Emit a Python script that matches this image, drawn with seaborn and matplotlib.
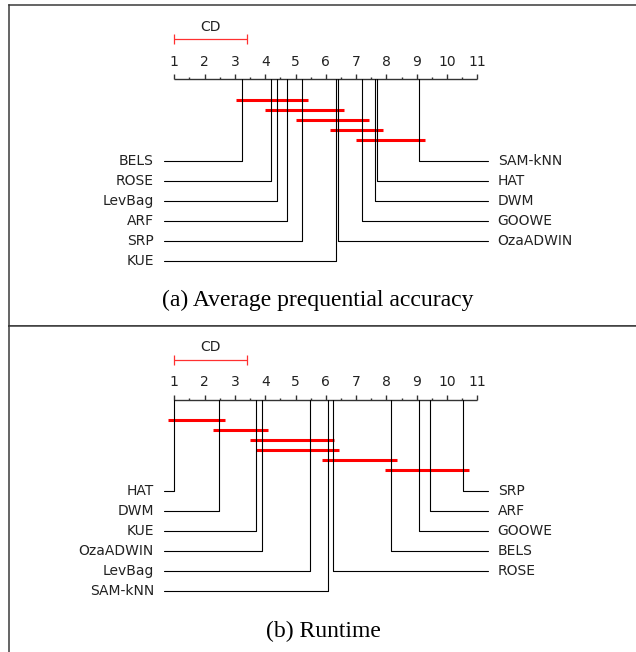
import numpy as np
import matplotlib
matplotlib.use("Agg")
import matplotlib.pyplot as plt
import matplotlib.transforms as mtransforms
import seaborn as sns

# Average ranks
acc_methods = ["BELS", "ROSE", "LevBag", "ARF", "SRP", "KUE",
               "OzaADWIN", "GOOWE", "DWM", "HAT", "SAM-kNN"]
acc_ranks = [3.22, 4.19, 4.38, 4.71, 5.20, 6.33, 6.40, 7.21, 7.63, 7.69, 9.08]
acc_cliques = [("BELS", "SRP"), ("ROSE", "OzaADWIN"), ("SRP", "GOOWE"),
               ("KUE", "HAT"), ("GOOWE", "SAM-kNN")]

rt_methods = ["HAT", "DWM", "KUE", "OzaADWIN", "LevBag", "SAM-kNN",
              "ROSE", "BELS", "GOOWE", "ARF", "SRP"]
rt_ranks = [1.00, 2.47, 3.71, 3.90, 5.47, 6.07, 6.23, 8.14, 9.07, 9.45, 10.52]
rt_cliques = [("HAT", "DWM"), ("DWM", "OzaADWIN"), ("KUE", "SAM-kNN"),
              ("OzaADWIN", "ROSE"), ("SAM-kNN", "BELS"), ("BELS", "SRP")]

cd_value = 2.41
rank_ticks = np.arange(1, 12)
captions = ["(a) Average prequential accuracy", "(b) Runtime"]

sns.set_theme(style="white")
plt.rcParams['font.family'] = ['DejaVu Sans']

# layout in pixels (y measured from the top of each panel)
W, H = 636, 652
PX = 30.3            # pixels per rank unit
X1 = 174.3           # pixel position of rank 1
LEFT_EDGE = 8.7
CD_LABEL_Y, CD_Y, TICK_LABEL_Y, AXIS_Y, CLIQUE_Y0 = 21.4, 34, 56.4, 74, 94.4
TEXT_C = "#222222"


def px_to_rank(px):
    return 1 + (px - X1) / PX


def draw_cd(ax, methods, ranks, cliques, caption, height, cap_x):
    ax.set_xlim(px_to_rank(LEFT_EDGE), px_to_rank(W))
    ax.set_ylim(height, 0)
    ax.set_xticks([])
    ax.set_yticks([])
    rank_of = dict(zip(methods, ranks))
    lo, hi = rank_ticks[0], rank_ticks[-1]

    # rank axis with ticks
    ax.hlines(AXIS_Y, lo, hi, color="#333333", lw=1.0)
    for t in np.arange(lo, hi + 0.01, 0.5):
        tl = 5 if t == int(t) else 2.5
        ax.vlines(t, AXIS_Y - tl, AXIS_Y, color="#333333", lw=1.0)
    for t in rank_ticks:
        ax.text(t, TICK_LABEL_Y, str(t), ha="center", va="center",
                fontsize=10, color=TEXT_C)

    # critical difference bar
    ax.hlines(CD_Y, lo, lo + cd_value, color="#ff3030", lw=0.9)
    ax.vlines([lo, lo + cd_value], CD_Y - 5, CD_Y + 5, color="#ff3030", lw=0.9)
    ax.text(lo + cd_value / 2, CD_LABEL_Y, "CD", ha="center", va="center",
            fontsize=10, color=TEXT_C)

    # cliques of methods that are not significantly different
    for i, (a, b) in enumerate(cliques):
        ax.hlines(CLIQUE_Y0 + i * 10, rank_of[a] - 0.2, rank_of[b] + 0.2,
                  color="#ff0000", lw=2.2)

    # connectors and method names
    n = len(methods)
    n_left = (n + 1) // 2
    row0 = CLIQUE_Y0 + len(cliques) * 10 + 11
    left_end, right_end = px_to_rank(164), px_to_rank(487.7)
    gap = 10 / PX
    for i in range(n_left):
        y = row0 + i * 20
        r = ranks[i]
        ax.plot([r, r, left_end], [AXIS_Y, y, y], color="black", lw=0.8)
        ax.text(left_end - gap, y, methods[i], ha="right", va="center",
                fontsize=10, color=TEXT_C)
    for j, idx in enumerate(range(n - 1, n_left - 1, -1)):
        y = row0 + j * 20
        r = ranks[idx]
        ax.plot([r, r, right_end], [AXIS_Y, y, y], color="black", lw=0.8)
        ax.text(right_end + gap, y, methods[idx], ha="left", va="center",
                fontsize=10, color=TEXT_C)

    # caption under the diagram
    trans = mtransforms.blended_transform_factory(ax.transAxes, ax.transData)
    ax.text(cap_x, row0 + (n_left - 1) * 20 + 40, caption, transform=trans,
            ha="center", va="center", fontsize=17,
            family="Liberation Serif", color="black")


fig = plt.figure(figsize=(W / 100, H / 100), dpi=100)
top_h = 326 - 5.3
ax1 = fig.add_axes([LEFT_EDGE / W, 1 - 326 / H, (W - LEFT_EDGE) / W, top_h / H])
ax2 = fig.add_axes([LEFT_EDGE / W, 0, (W - LEFT_EDGE) / W, 326 / H])

for ax in (ax1, ax2):
    for s in ax.spines.values():
        s.set_color("#3a3a3a")
        s.set_linewidth(1.1)

draw_cd(ax1, acc_methods, acc_ranks, acc_cliques, captions[0], top_h, 0.493)
draw_cd(ax2, rt_methods, rt_ranks, rt_cliques, captions[1], 326, 0.501)

sns.despine(ax=ax1, top=False, right=True, left=False, bottom=False)
sns.despine(ax=ax2, top=False, right=True, left=False, bottom=True)

fig.savefig("out.png", dpi=100)
